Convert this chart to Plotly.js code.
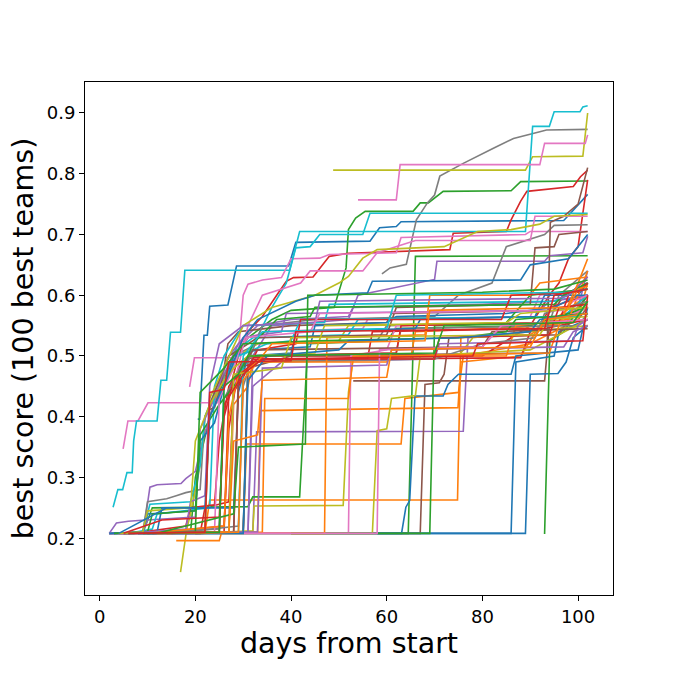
<!DOCTYPE html>
<html>
<head>
<meta charset="utf-8">
<script src="https://cdn.plot.ly/plotly-3.0.1.min.js"></script>
<style>
  html, body { margin: 0; padding: 0; background: #fff; }
  #chart { width: 680px; height: 680px; }
</style>
</head>
<body>
<div id="chart"></div>
<script>
// best score per team, as [day, score] breakpoints, grouped by line colour
const blueTeams = [
  [[20.5,0.396],[20.9,0.396],[21.8,0.534],[22.5,0.534],[23,0.582],[26.8,0.584],[28.6,0.648],[39.5,0.648],[41,0.687],[56.5,0.689],[58.5,0.711],[62,0.713],[63,0.721],[97,0.723],[99,0.74],[102,0.766]],
  [[2,0.208],[86,0.208],[87,0.49],[95,0.5],[96,0.54],[102,0.56]],
  [[2,0.208],[89,0.208],[90,0.47],[95.8,0.471],[97.5,0.49],[99,0.53],[102,0.55]],
  [[58,0.208],[63.1,0.208],[64,0.251],[64.8,0.262],[65.9,0.434],[71.8,0.434],[72.8,0.453],[75,0.47],[86,0.47],[87,0.5],[100,0.51],[102,0.58]],
  [[2,0.208],[9,0.21],[10,0.24],[20,0.245],[21,0.36],[22,0.37],[24,0.39],[26,0.45],[28,0.5],[33,0.51],[44,0.515],[45,0.55],[60,0.555],[62,0.565],[85,0.57],[95,0.58],[100,0.6],[102,0.62]],
  [[3,0.208],[12,0.21],[13,0.25],[28,0.25],[29,0.44],[31,0.5],[40,0.505],[41,0.54],[66,0.545],[67,0.56],[91,0.565],[93,0.6],[102,0.6]],
  [[4,0.208],[14,0.25],[22,0.25],[23,0.4],[27,0.47],[30,0.53],[33,0.56],[41,0.59],[45,0.6],[56,0.604],[57,0.623],[88,0.625],[90,0.65],[98,0.66],[102,0.7]],
  [[8,0.208],[30,0.208],[31,0.46],[35,0.5],[50,0.51],[52,0.525],[75,0.53],[90,0.54],[92,0.56],[102,0.57]]
];
const orangeTeams = [
  [[22,0.208],[23,0.263],[74.8,0.263],[75.5,0.53],[90,0.535],[95,0.56],[102,0.6]],
  [[18,0.208],[30,0.21],[30.7,0.355],[63,0.355],[63.8,0.43],[75,0.44],[76,0.5],[90,0.52],[100,0.56],[102,0.62]],
  [[20,0.208],[33,0.21],[33.6,0.41],[74.9,0.415],[75.5,0.49],[88,0.5],[92,0.55],[102,0.56]],
  [[16,0.196],[25,0.196],[25.5,0.21],[27,0.21],[28,0.42],[31,0.45],[32,0.49],[49,0.495],[65,0.495],[66,0.54],[95,0.55],[102,0.58]],
  [[21,0.208],[34,0.21],[34.5,0.43],[52,0.43],[53,0.5],[85,0.5],[87,0.55],[98,0.56],[102,0.64]],
  [[25,0.208],[47,0.208],[47.5,0.53],[68,0.535],[69,0.6],[90,0.6],[92,0.62],[102,0.63]],
  [[10,0.208],[26,0.22],[27,0.4],[29,0.47],[33,0.49],[60,0.49],[61,0.5],[94,0.505],[96,0.55],[100,0.62],[102,0.66]],
  [[12,0.208],[29,0.21],[30,0.46],[36,0.52],[68,0.525],[69,0.575],[98,0.58],[100,0.61],[102,0.615]],
  [[14,0.208],[27,0.21],[28,0.36],[33,0.37],[34,0.46],[60,0.465],[61,0.51],[90,0.515],[93,0.56],[102,0.57]]
];
const greenTeams = [
  [[5,0.208],[19,0.21],[20,0.3],[23,0.4],[27,0.48],[31,0.53],[36,0.56],[40,0.575],[49,0.58],[51.5,0.645],[52,0.708],[53.5,0.727],[55.5,0.738],[65.5,0.738],[67,0.752],[68.7,0.752],[71.8,0.771],[86,0.772],[88,0.787],[102,0.788]],
  [[58,0.208],[64.5,0.208],[66,0.664],[102,0.665]],
  [[93,0.207],[94.1,0.525],[97,0.54],[102,0.6]],
  [[9,0.208],[11,0.25],[31,0.252],[32,0.268],[41.8,0.268],[43.5,0.52],[60,0.525],[62,0.545],[90,0.55],[102,0.58]],
  [[40,0.208],[69,0.208],[70,0.55],[85,0.555],[90,0.6],[102,0.61]],
  [[3,0.208],[10,0.21],[11,0.24],[20,0.245],[21,0.37],[25,0.42],[29,0.46],[32,0.52],[37,0.56],[44,0.565],[45,0.58],[95,0.585],[97,0.6],[102,0.62]],
  [[6,0.208],[20,0.21],[21,0.44],[26,0.48],[30,0.52],[45,0.525],[75,0.53],[85,0.54],[87,0.56],[102,0.57]],
  [[12,0.208],[28,0.24],[29,0.35],[43,0.355],[43.5,0.6],[80,0.605],[95,0.61],[102,0.625]],
  [[9,0.208],[25,0.21],[26,0.45],[29,0.47],[31,0.5],[70,0.505],[72,0.55],[99,0.555],[102,0.59]]
];
const redTeams = [
  [[2,0.208],[26,0.21],[27,0.44],[29,0.5],[31,0.54],[34,0.565],[37,0.6],[39,0.623],[40.5,0.629],[44.6,0.63],[48,0.664],[52,0.669],[73.2,0.675],[73.9,0.702],[85,0.705],[86,0.724],[88,0.755],[89.3,0.771],[99,0.779],[100.5,0.795],[102,0.806]],
  [[8,0.208],[27,0.21],[28,0.46],[30,0.495],[36,0.5],[80,0.5],[90,0.55],[94,0.6],[96,0.62],[98,0.66],[100,0.68],[102,0.79]],
  [[4,0.208],[21,0.208],[22,0.25],[27,0.26],[28,0.44],[32,0.494],[88,0.497],[90,0.54],[102,0.56]],
  [[10,0.208],[26,0.22],[27,0.38],[29,0.48],[35,0.495],[56,0.495],[57,0.54],[92,0.545],[94,0.58],[102,0.6]],
  [[7,0.208],[18,0.22],[19,0.25],[24,0.255],[25,0.36],[27,0.45],[31,0.5],[62,0.505],[63,0.55],[96,0.555],[98,0.6],[102,0.63]],
  [[11,0.208],[28,0.21],[29,0.45],[33,0.51],[41,0.52],[42,0.56],[84,0.56],[86,0.6],[100,0.605],[102,0.62]],
  [[5,0.208],[13,0.23],[25,0.235],[26,0.4],[28,0.46],[33,0.495],[70,0.495],[71,0.53],[94,0.535],[96,0.58],[102,0.585]],
  [[14,0.208],[25,0.21],[26,0.42],[30,0.47],[34,0.495],[78,0.5],[79,0.52],[101,0.525],[102,0.6]],
  [[6,0.208],[22,0.21],[23,0.44],[26,0.445],[27,0.49],[40,0.492],[41,0.54],[93,0.545],[95,0.6],[102,0.61]]
];
const purpleTeams = [
  [[2,0.208],[32,0.21],[32.8,0.375],[76,0.376],[77,0.53],[90,0.54],[100,0.58],[102,0.64]],
  [[2,0.208],[3.5,0.225],[6,0.228],[9.5,0.23],[10.5,0.284],[12,0.288],[17,0.29],[18,0.298],[20,0.31],[21.5,0.36],[23,0.4],[26,0.47],[29,0.52],[33,0.55],[40,0.56],[52,0.565],[53,0.58],[80,0.585],[95,0.59],[102,0.6]],
  [[18,0.208],[31,0.21],[32,0.5],[36,0.55],[52,0.56],[54,0.6],[70,0.626],[70.5,0.656],[93,0.656],[94,0.665],[101,0.67],[102,0.697]],
  [[3,0.208],[9,0.21],[10,0.23],[20,0.235],[21,0.38],[24,0.43],[27,0.5],[30,0.53],[38,0.54],[39,0.57],[92,0.575],[94,0.59],[102,0.6]],
  [[20,0.208],[31,0.21],[32,0.45],[38,0.49],[70,0.495],[71,0.52],[99,0.525],[100,0.55],[102,0.56]],
  [[6,0.208],[18,0.215],[19,0.26],[22,0.27],[23,0.45],[25,0.52],[30,0.55],[45,0.555],[46,0.59],[96,0.595],[98,0.6],[102,0.63]],
  [[8,0.208],[33,0.21],[34,0.48],[60,0.485],[61,0.51],[97,0.515],[99,0.54],[102,0.55]]
];
const brownTeams = [
  [[53,0.459],[93,0.459],[94,0.55],[100,0.56],[102,0.58]],
  [[40,0.208],[67,0.208],[68,0.453],[71,0.456],[72,0.47],[73,0.53],[96,0.535],[98,0.56],[102,0.6]],
  [[23,0.412],[24,0.415],[25,0.44],[26,0.48],[26.8,0.52],[29,0.54],[40,0.55],[60,0.555],[61,0.57],[95,0.575],[97,0.6],[102,0.62]],
  [[20,0.208],[30,0.21],[31,0.48],[40,0.5],[93.5,0.505],[94.2,0.72],[97,0.73],[100,0.75],[102,0.81]],
  [[5,0.208],[22,0.21],[23,0.42],[27,0.5],[33,0.53],[60,0.535],[62,0.58],[90,0.585],[91,0.678],[95,0.68],[96,0.7],[102,0.705]],
  [[10,0.208],[28,0.21],[29,0.47],[32,0.51],[80,0.515],[82,0.54],[102,0.545]]
];
const pinkTeams = [
  [[4.9,0.347],[5.9,0.393],[8,0.393],[10.1,0.423],[24.7,0.423],[26,0.45],[28,0.5],[31,0.53],[35,0.54],[55,0.545],[56,0.56],[90,0.565],[92,0.6],[102,0.61]],
  [[18.8,0.449],[19.8,0.497],[28.9,0.497],[30,0.6],[31,0.618],[34,0.625],[38,0.629],[40,0.66],[46,0.661],[48,0.667],[62,0.67],[63,0.695],[89,0.7],[90,0.705],[102,0.705]],
  [[54,0.757],[62,0.757],[62.8,0.815],[92,0.815],[93,0.85],[101.5,0.85],[102,0.864]],
  [[2,0.208],[52,0.209],[52.5,0.5],[60,0.51],[62,0.55],[95,0.555],[102,0.58]],
  [[15,0.208],[27,0.21],[28,0.45],[31,0.55],[34,0.6],[42,0.62],[44,0.64],[55,0.64],[58,0.67],[62,0.68],[66,0.69],[90,0.69],[91,0.73],[102,0.73]],
  [[7,0.208],[24,0.21],[25,0.43],[28,0.48],[30,0.53],[44,0.54],[46,0.57],[97,0.575],[99,0.59],[102,0.6]],
  [[30,0.208],[58,0.208],[58.5,0.51],[80,0.515],[84,0.55],[102,0.56]]
];
const grayTeams = [
  [[59,0.635],[60.7,0.645],[64.1,0.651],[66.2,0.724],[68.5,0.752],[70,0.765],[71.1,0.796],[76,0.817],[82.3,0.842],[86.5,0.858],[92,0.869],[93.4,0.872],[102,0.873]],
  [[2,0.208],[9,0.21],[10,0.26],[14,0.265],[16,0.27],[18,0.275],[21,0.28],[22,0.4],[25,0.45],[28,0.5],[33,0.52],[58,0.525],[60,0.55],[94,0.555],[96,0.6],[102,0.64]],
  [[8,0.208],[30,0.21],[31,0.49],[34,0.55],[45,0.56],[70,0.565],[75,0.6],[82,0.62],[85,0.68],[93,0.7],[95,0.715],[102,0.716]],
  [[15,0.208],[29,0.22],[30,0.45],[32,0.5],[62,0.505],[63,0.545],[100,0.55],[102,0.57]],
  [[5,0.208],[25,0.215],[26,0.43],[30,0.49],[70,0.495],[80,0.52],[91,0.53],[93,0.57],[102,0.59]]
];
const oliveTeams = [
  [[48.8,0.806],[89,0.806],[90.5,0.828],[101,0.829],[102,0.9]],
  [[16.9,0.144],[18.2,0.215],[19,0.24],[21,0.32],[22,0.4],[24,0.43],[26,0.45],[29,0.5],[33,0.52],[50,0.525],[52,0.55],[98,0.555],[100,0.58],[102,0.59]],
  [[20,0.208],[32,0.212],[32.3,0.253],[50.9,0.254],[52,0.44],[53,0.497],[75,0.5],[78,0.53],[102,0.55]],
  [[40,0.208],[57,0.208],[58,0.377],[60,0.38],[61,0.43],[66,0.435],[67,0.5],[90,0.51],[102,0.56]],
  [[8,0.208],[22,0.21],[23,0.43],[27,0.5],[30,0.55],[36,0.58],[45,0.6],[50,0.62],[52,0.631],[55,0.661],[58,0.675],[72,0.68],[79,0.705],[86,0.708],[92,0.717],[95,0.73],[102,0.733]],
  [[4,0.208],[9,0.21],[10,0.245],[19,0.25],[20,0.36],[23,0.42],[26,0.46],[28,0.48],[31,0.5],[45,0.505],[47,0.55],[85,0.555],[88,0.57],[102,0.58]],
  [[12,0.208],[27,0.21],[28,0.47],[38,0.48],[40,0.53],[92,0.535],[94,0.56],[102,0.565]]
];
const cyanTeams = [
  [[2.8,0.251],[3.8,0.28],[4.8,0.28],[5.7,0.308],[6.8,0.308],[7.1,0.36],[7.7,0.393],[12,0.393],[12.8,0.46],[14,0.46],[14.8,0.539],[16.9,0.539],[17.8,0.641],[39.7,0.641],[41.8,0.705],[89,0.705],[90.5,0.878],[94,0.878],[95,0.902],[100.4,0.902],[101,0.91],[102,0.912]],
  [[20,0.208],[30,0.21],[31,0.5],[36,0.58],[39,0.62],[41,0.678],[44,0.68],[46,0.7],[55,0.7],[56.5,0.735],[102,0.735]],
  [[3,0.208],[9,0.21],[10.5,0.256],[19,0.26],[20,0.29],[21,0.32],[22,0.4],[24,0.44],[27,0.5],[32,0.53],[52,0.535],[54,0.56],[97,0.565],[99,0.58],[102,0.6]],
  [[6,0.208],[11,0.215],[12,0.24],[23,0.25],[24,0.45],[26,0.5],[30,0.55],[47,0.555],[48,0.585],[95,0.59],[98,0.6],[102,0.62]],
  [[10,0.208],[25,0.21],[26,0.46],[29,0.5],[35,0.52],[40,0.525],[42,0.56],[100,0.565],[102,0.59]],
  [[15,0.208],[29,0.21],[30,0.5],[34,0.54],[60,0.545],[62,0.6],[98,0.605],[102,0.61]]
];

const xTicks = [0, 20, 40, 60, 80, 100];
const yTicks = [0.2, 0.3, 0.4, 0.5, 0.6, 0.7, 0.8, 0.9];

const groups = [blueTeams, orangeTeams, greenTeams, redTeams, purpleTeams,
                brownTeams, pinkTeams, grayTeams, oliveTeams, cyanTeams];
const palette = ['#1f77b4', '#ff7f0e', '#2ca02c', '#d62728', '#9467bd',
                 '#8c564b', '#e377c2', '#7f7f7f', '#bcbd22', '#17becf'];

// interleave colours like matplotlib's colour cycle does
let data = [];
let maxLen = Math.max(...groups.map(g => g.length));
for (let i = 0; i < maxLen; i++) {
  groups.forEach((g, k) => {
    if (i >= g.length) return;
    data.push({
      x: g[i].map(p => p[0]),
      y: g[i].map(p => p[1]),
      mode: 'lines',
      line: { color: palette[k], width: 1.6 },
      hoverinfo: 'skip',
      showlegend: false
    });
  });
}

let tickFont = { family: 'DejaVu Sans', size: 18, color: '#000' };
let titleFont = { family: 'DejaVu Sans', size: 28.5, color: '#000' };
let layout = {
  width: 680,
  height: 680,
  margin: { l: 85, r: 67, t: 82, b: 85 },
  paper_bgcolor: '#fff',
  plot_bgcolor: '#fff',
  font: { family: 'DejaVu Sans', color: '#000' },
  xaxis: {
    range: [-3.07, 107.3],
    tickvals: xTicks,
    ticks: 'outside', ticklen: 5, tickwidth: 1, tickcolor: '#000',
    tickfont: tickFont,
    showgrid: false, zeroline: false,
    showline: true, mirror: true, linecolor: '#000', linewidth: 1,
    title: { text: 'days from start', font: titleFont, standoff: 4 }
  },
  yaxis: {
    range: [0.1065, 0.951],
    tickvals: yTicks,
    tickformat: '.1f',
    ticks: 'outside', ticklen: 5, tickwidth: 1, tickcolor: '#000',
    tickfont: tickFont,
    showgrid: false, zeroline: false,
    showline: true, mirror: true, linecolor: '#000', linewidth: 1,
    title: { text: 'best score (100 best teams)', font: titleFont, standoff: 4 }
  }
};

Plotly.newPlot('chart', data, layout, { displayModeBar: false, staticPlot: true });
</script>
</body>
</html>
